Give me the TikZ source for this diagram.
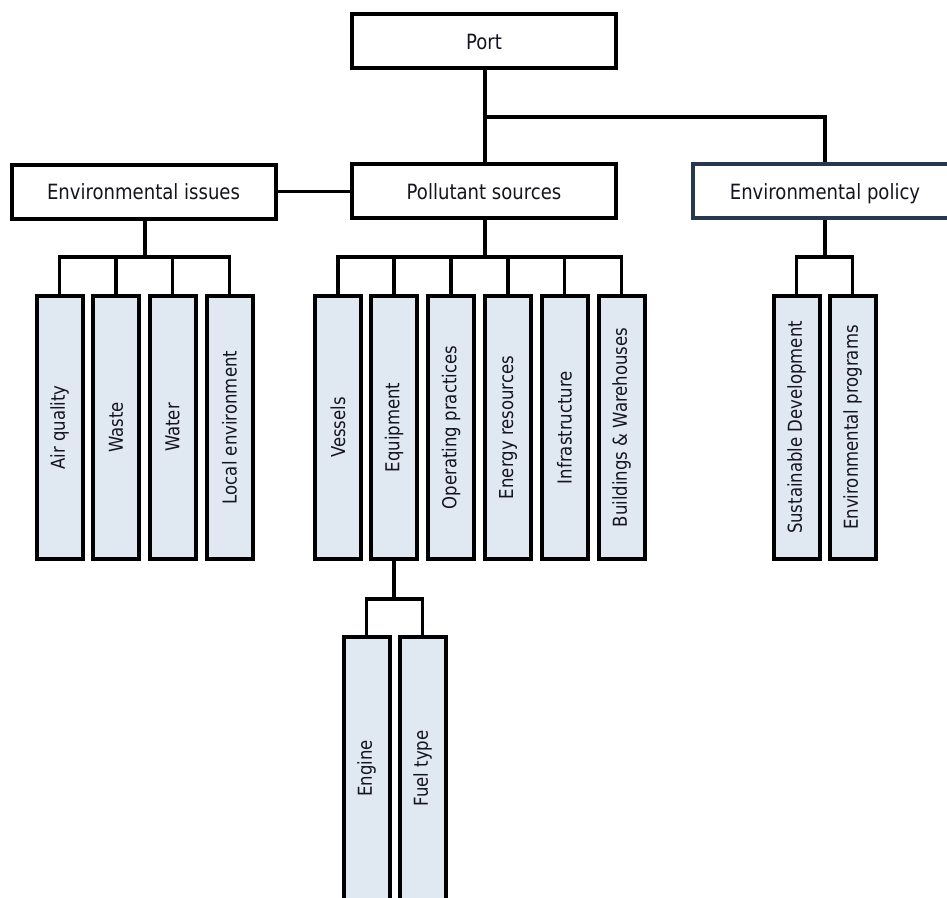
\documentclass[tikz,border=0pt]{standalone}
\usepackage{fontspec}
\setmainfont[FakeStretch=0.86]{DejaVu Sans}
\usepackage{graphicx}
\definecolor{boxfill}{RGB}{224,232,241}
\definecolor{txt}{RGB}{20,20,30}
\definecolor{slate}{RGB}{40,55,78}
\tikzset{
  bigbox/.style={draw=black, line width=4, fill=white, minimum width=264, minimum height=54,
    inner sep=0, text=txt, font=\fontsize{21}{25}\selectfont, text height=16, text depth=0},
  narrowbox/.style={draw=black, line width=4, fill=boxfill, minimum width=46, minimum height=263.5,
    inner sep=0, text=txt, font=\fontsize{19.2}{23}\selectfont},
  conn/.style={draw=black, line width=3.6, line join=miter}
}
\begin{document}
\begin{tikzpicture}[x=1pt,y=-1pt]
\useasboundingbox (0,0) rectangle (947,897);
\clip (0,0) rectangle (947,897);

% top level
\node[bigbox] (port) at (484,41) {Port};
\node[bigbox] (issues) at (143.5,191.5) {Environmental issues};
\node[bigbox] (sources) at (484,191) {Pollutant sources};
\node[bigbox, draw=slate, line width=3.5] (policy) at (825,191) {Environmental policy};

% bus coordinates
\coordinate (jport) at (485,117);
\coordinate (bissues) at (145,257);
\coordinate (bsources) at (485,257);
\coordinate (bpolicy) at (825,257);
\coordinate (bequip) at (394,599);

% issues children
\node[narrowbox] (air) at (59.5,427.5) {\rotatebox{90}{Air quality}};
\node[narrowbox] (waste) at (116,427.5) {\rotatebox{90}{Waste}};
\node[narrowbox] (water) at (172.5,427.5) {\rotatebox{90}{Water}};
\node[narrowbox] (local) at (229.5,427.5) {\rotatebox{90}{Local environment}};

% sources children
\node[narrowbox] (vessels) at (338,427.5) {\rotatebox{90}{Vessels}};
\node[narrowbox] (equip) at (394,427.5) {\rotatebox{90}{Equipment}};
\node[narrowbox] (oper) at (451,427.5) {\rotatebox{90}{Operating practices}};
\node[narrowbox] (energy) at (508,427.5) {\rotatebox{90}{Energy resources}};
\node[narrowbox] (infra) at (564.5,427.5) {\rotatebox{90}{Infrastructure}};
\node[narrowbox] (build) at (621.5,427.5) {\rotatebox{90}{Buildings \& Warehouses}};

% policy children
\node[narrowbox] (sust) at (796.5,427.5) {\rotatebox{90}{Sustainable Development}};
\node[narrowbox] (progs) at (852.5,427.5) {\rotatebox{90}{Environmental programs}};

% equipment children
\node[narrowbox] (engine) at (366.5,768.5) {\rotatebox{90}{Engine}};
\node[narrowbox] (fuel) at (422.5,768.5) {\rotatebox{90}{Fuel type}};

% connectors
\draw[conn] (port.south -| jport) -- (sources.north -| jport);
\draw[conn] (jport) -| (policy.north);
\draw[conn] (issues.east) -- (sources.west |- issues.east);

\draw[conn] (issues.south -| bissues) -- (bissues);
\draw[conn] (air.north) |- (bissues) -| (local.north);
\draw[conn] (waste.north) -- (waste.north |- bissues);
\draw[conn] (water.north) -- (water.north |- bissues);

\draw[conn] (sources.south -| bsources) -- (bsources);
\draw[conn] (vessels.north) |- (bsources) -| (build.north);
\draw[conn] (equip.north) -- (equip.north |- bsources);
\draw[conn] (oper.north) -- (oper.north |- bsources);
\draw[conn] (energy.north) -- (energy.north |- bsources);
\draw[conn] (infra.north) -- (infra.north |- bsources);

\draw[conn] (policy.south -| bpolicy) -- (bpolicy);
\draw[conn] (sust.north) |- (bpolicy) -| (progs.north);

\draw[conn] (equip.south) -- (bequip);
\draw[conn] (engine.north) |- (bequip) -| (fuel.north);
\end{tikzpicture}
\end{document}
